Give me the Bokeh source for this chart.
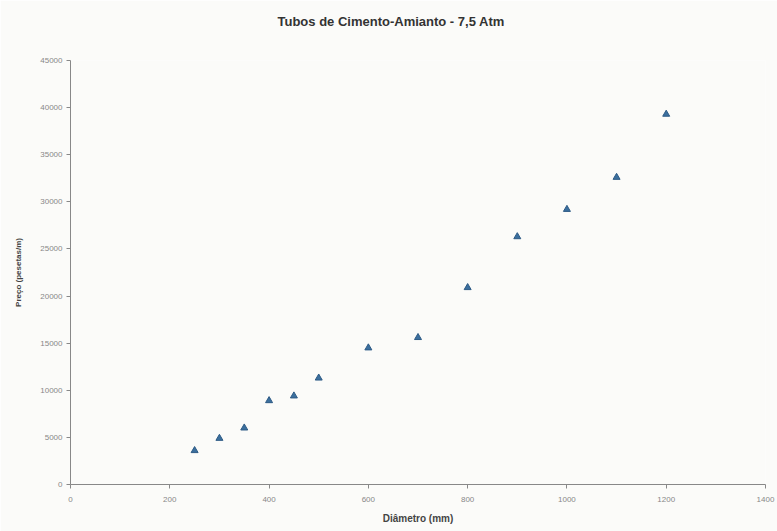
from bokeh.plotting import figure
from bokeh.embed import file_html
from bokeh.resources import INLINE
from bokeh.models import Range1d, FixedTicker, NumeralTickFormatter

diametro = [250, 300, 350, 400, 450, 500, 600, 700, 800, 900, 1000, 1100, 1200]
preco = [3600, 4900, 6000, 8900, 9400, 11300, 14500, 15600, 20900, 26300, 29200, 32600, 39300]
x_ticks = [0, 200, 400, 600, 800, 1000, 1200, 1400]
y_ticks = [0, 5000, 10000, 15000, 20000, 25000, 30000, 35000, 40000, 45000]

p = figure(width=777, height=531, output_backend="svg", toolbar_location=None,
           x_range=Range1d(0, 1400), y_range=Range1d(0, 45000),
           min_border_left=70, min_border_right=12, min_border_top=60, min_border_bottom=47,
           background_fill_color="#fbfbf9", border_fill_color="#fbfbf9")
p.outline_line_color = None
p.xgrid.grid_line_color = None
p.ygrid.grid_line_color = None

p.title.text = "Tubos de Cimento-Amianto - 7,5 Atm"
p.title.align = "left"
p.title.offset = 207
p.title.standoff = 23
p.title.padding = (0, 0, 0, 20)
p.title.text_font = "Liberation Sans"
p.title.text_font_style = "bold"
p.title.text_font_size = "13px"
p.title.text_color = "#333333"

for ax in (p.xaxis[0], p.yaxis[0]):
    ax.axis_line_color = "#888888"
    ax.major_tick_line_color = "#888888"
    ax.minor_tick_line_color = None
    ax.major_tick_out = 4
    ax.major_tick_in = 0
    ax.major_label_text_font = "Liberation Sans"
    ax.major_label_text_font_size = "8px"
    ax.major_label_text_color = "#888888"
    ax.axis_label_text_font = "Liberation Sans"
    ax.axis_label_text_font_style = "bold"
    ax.axis_label_text_color = "#444444"

p.xaxis.axis_label_text_font_size = "10px"
p.yaxis.axis_label_text_font_size = "8px"
p.xaxis.ticker = FixedTicker(ticks=x_ticks)
p.yaxis.ticker = FixedTicker(ticks=y_ticks)
p.yaxis.formatter = NumeralTickFormatter(format="0")
p.xaxis.axis_label = "Diâmetro (mm)"
p.yaxis.axis_label = "Preço (pesetas/m)"
p.xaxis.major_label_standoff = 8
p.yaxis.major_label_standoff = 4
p.xaxis.axis_label_standoff = 8
p.yaxis.axis_label_standoff = 14

p.scatter(diametro, preco, marker="triangle", size=7,
          fill_color="#3b6f9e", line_color="#2d5a85")

open("out.html", "w").write(file_html(p, INLINE))
